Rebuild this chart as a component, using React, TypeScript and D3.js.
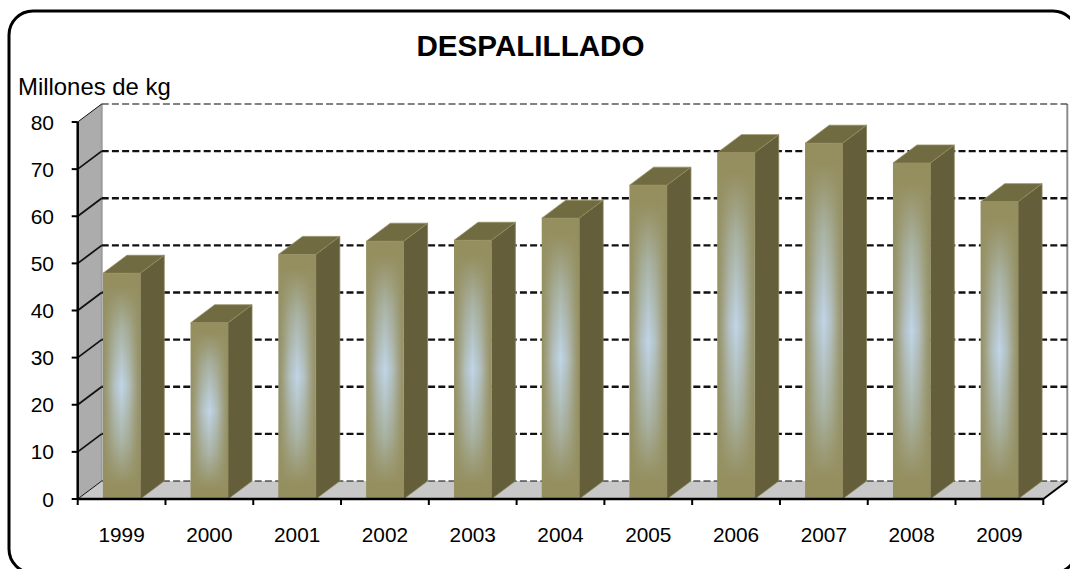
import React from "react";
import * as d3 from "d3";

const title = "DESPALILLADO";
const unitLabel = "Millones de kg";
const years = ["1999","2000","2001","2002","2003","2004","2005","2006","2007","2008","2009"];
const values = [47.9, 37.4, 51.9, 54.7, 54.9, 59.6, 66.6, 73.5, 75.5, 71.3, 63.1];
const yTicks = [0,10,20,30,40,50,60,70,80];

const W = 1070, H = 569;
const x0 = 77.7, x1 = 1043.3, yB = 499, yT = 122, dx = 24, dy = -18;
const barW = 37.3;
const edge = "#958f60";
const mid = "#aab4a6";
const center = "#c0d5e9";

export default function App() {
  const y = d3.scaleLinear().domain([0, 80]).range([yB, yT]);
  const x = d3.scaleBand<string>().domain(years).range([x0, x1]);
  const line = d3.line();
  const poly = (p: [number, number][]) => line(p) + "Z";
  const bw = x.bandwidth();
  return (
    <svg width={W} height={H} style={{ position: "absolute", left: 0, top: 0 }} fontFamily="Liberation Sans, Arial, sans-serif">
      <defs>
        <linearGradient id="gV" x1="0" y1="0" x2="0" y2="1">
          <stop offset="0" stopColor={edge} />
          <stop offset="0.06" stopColor={edge} />
          <stop offset="0.25" stopColor={mid} />
          <stop offset="0.5" stopColor={center} />
          <stop offset="0.75" stopColor={mid} />
          <stop offset="0.94" stopColor={edge} />
          <stop offset="1" stopColor={edge} />
        </linearGradient>
        <linearGradient id="gH" x1="0" y1="0" x2="1" y2="0">
          <stop offset="0" stopColor={edge} stopOpacity={1} />
          <stop offset="0.12" stopColor={edge} stopOpacity={0.75} />
          <stop offset="0.3" stopColor={edge} stopOpacity={0.3} />
          <stop offset="0.5" stopColor={edge} stopOpacity={0} />
          <stop offset="0.7" stopColor={edge} stopOpacity={0.3} />
          <stop offset="0.88" stopColor={edge} stopOpacity={0.75} />
          <stop offset="1" stopColor={edge} stopOpacity={1} />
        </linearGradient>
      </defs>
      <rect width={W} height={H} fill="#fff" />
      <rect x={9} y={11} width={1068} height={562} rx={24} ry={24} fill="#fff" stroke="#000" strokeWidth={3} />
      <text x={530.5} y={56} textAnchor="middle" fontSize={29.6} fontWeight="bold">{title}</text>
      <text x={18} y={95} fontSize={23.9}>{unitLabel}</text>

      {/* side wall, floor */}
      <path d={poly([[x0, yB], [x0 + dx, yB + dy], [x0 + dx, yT + dy], [x0, yT]])} fill="#acacac" />
      <path d={poly([[x0, yB], [x0 + dx, yB + dy], [x1 + dx, yB + dy], [x1, yB]])} fill="#c8c8c8" />
      <path d={`M${x0 + dx},${yT + dy}V${yB + dy}`} stroke="#9c9c9c" strokeWidth={2} fill="none" />
      <path d={`M${x1 + dx},${yT + dy}V${yB + dy}`} stroke="#8c8c8c" strokeWidth={2} fill="none" />

      {/* grid */}
      {yTicks.map((t) => {
        const thin = t === 80 || t === 0;
        return (
          <g key={t} fill="none" stroke="#111" strokeWidth={thin ? 1.5 : 2.4}>
            <path d={`M${x0},${y(t)}L${x0 + dx},${y(t) + dy}`} strokeWidth={thin ? 1 : 1.8} />
            <path d={`M${x0 + dx},${y(t) + dy}H${x1 + dx}`} strokeDasharray="7 3.2" opacity={thin ? 0.7 : 1} />
          </g>
        );
      })}
      <path d={`M${x1},${yB}L${x1 + dx},${yB + dy}`} stroke="#000" strokeWidth={2} />

      {/* bars */}
      {years.map((yr, i) => {
        const l = x(yr)! + (bw - barW) / 2;
        const r = l + barW;
        const t = y(values[i]);
        return (
          <g key={yr}>
            <path d={poly([[r, t], [r + dx, t + dy], [r + dx, yB + dy], [r, yB]])} fill="#645e3a" stroke="#89845a" strokeWidth={0.8} />
            <path d={poly([[l, t], [l + dx, t + dy], [r + dx, t + dy], [r, t]])} fill="#716b42" stroke="#948e60" strokeWidth={0.8} />
            <rect x={l} y={t} width={barW} height={yB - t} fill="url(#gV)" />
            <rect x={l} y={t} width={barW} height={yB - t} fill="url(#gH)" />
          </g>
        );
      })}

      {/* axes */}
      <g stroke="#000" strokeWidth={2} fill="none">
        <path d={`M${x0},${yT}V${yB + 1}`} strokeWidth={2.5} />
        <path d={`M${x0},${yB}H${x1}`} strokeWidth={2.5} />
        {yTicks.map((t) => <path key={t} d={`M${x0 - 6},${y(t)}H${x0}`} />)}
        {d3.range(years.length + 1).map((i) => {
          const px = x0 + i * bw;
          return <path key={i} d={`M${px},${yB}V${yB + 6}`} />;
        })}
      </g>
      {yTicks.map((t) => (
        <text key={t} x={54} y={y(t) + 7.5} textAnchor="end" fontSize={21}>{t}</text>
      ))}
      {years.map((yr) => (
        <text key={yr} x={x(yr)! + bw / 2} y={542} textAnchor="middle" fontSize={20.8}>{yr}</text>
      ))}
    </svg>
  );
}
